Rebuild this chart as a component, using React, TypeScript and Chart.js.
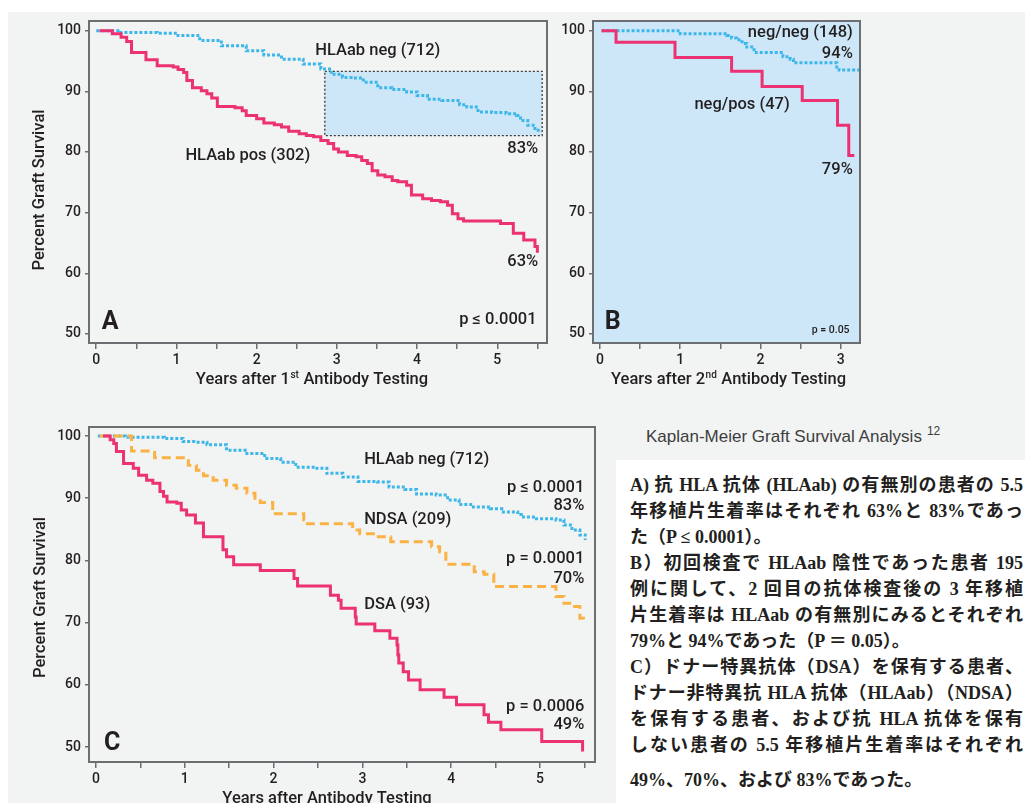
import React, { useEffect, useRef } from 'react';
import { Chart, registerables } from 'chart.js';
Chart.register(...registerables);

// ---------- Panel A: years after 1st antibody testing ----------
const aPosT = [0.04, 0.2, 0.31, 0.38, 0.44, 0.62, 0.76, 0.96, 1.02, 1.09, 1.13, 1.2, 1.31, 1.38, 1.44, 1.51, 1.73, 1.82, 1.87, 2.0, 2.09, 2.22, 2.31, 2.4, 2.53, 2.62, 2.71, 2.8, 2.89, 2.96, 3.02, 3.13, 3.24, 3.31, 3.38, 3.44, 3.51, 3.6, 3.69, 3.76, 3.87, 3.93, 4.07, 4.18, 4.29, 4.38, 4.44, 4.51, 4.58, 5.04, 5.2, 5.33, 5.47, 5.5];
const aPosV = [100, 99.5, 98.9, 98.2, 96.4, 95.2, 94.2, 94.0, 93.6, 93.1, 91.8, 90.6, 90.1, 89.6, 88.9, 87.5, 87.3, 86.8, 86.0, 85.5, 84.8, 84.5, 84.1, 83.4, 83.0, 82.7, 82.5, 81.9, 81.4, 80.5, 80.0, 79.4, 79.2, 78.6, 78.1, 76.9, 76.2, 75.9, 75.3, 75.1, 74.5, 72.9, 72.3, 72.0, 71.8, 71.2, 69.8, 69.0, 68.6, 68.2, 66.6, 65.5, 64.4, 63.4];
const aNegT = [0, 0.27, 0.76, 1.02, 1.29, 1.56, 1.87, 2.09, 2.31, 2.58, 2.8, 2.93, 3.07, 3.2, 3.33, 3.51, 3.69, 3.87, 4.0, 4.13, 4.31, 4.53, 4.62, 4.76, 4.93, 5.11, 5.24, 5.29, 5.38, 5.47, 5.51];
const aNegV = [100, 99.7, 99.6, 99.2, 98.4, 97.5, 96.7, 96.0, 95.3, 94.5, 93.7, 92.8, 92.3, 92.2, 91.5, 90.6, 90.3, 89.9, 89.3, 88.7, 88.5, 87.8, 87.4, 86.6, 86.5, 86.3, 86.0, 85.2, 84.4, 83.6, 83.0];
const aBox = [2.85, 5.56, 82.7, 93.3];

// ---------- Panel B: years after 2nd antibody testing ----------
const bPosT = [0.02, 0.2, 0.935, 1.64, 2.02, 2.52, 2.96, 3.1, 3.17];
const bPosV = [100, 98.1, 95.6, 93.3, 90.8, 88.5, 84.4, 79.4, 79.4];
const bNegT = [0.02, 1.0, 1.58, 1.64, 1.7, 1.77, 1.83, 1.92, 2.28, 2.37, 2.41, 2.95, 2.98, 3.24];
const bNegV = [100, 99.5, 99.2, 98.8, 98.5, 97.9, 97.3, 96.4, 95.7, 95.3, 94.7, 94.0, 93.5, 93.5];

// ---------- Panel C: years after antibody testing ----------
const cDsaT = [0.08, 0.16, 0.2, 0.23, 0.31, 0.42, 0.48, 0.57, 0.64, 0.72, 0.76, 0.8, 0.91, 0.96, 1.02, 1.12, 1.21, 1.43, 1.47, 1.55, 1.85, 2.23, 2.27, 2.64, 2.73, 2.76, 2.92, 2.93, 3.14, 3.31, 3.39, 3.40, 3.41, 3.46, 3.52, 3.65, 3.92, 4.06, 4.37, 4.42, 4.56, 5.02, 5.48];
const cDsaV = [100, 99.4, 98.8, 97.5, 95.6, 94.8, 93.7, 92.9, 92.4, 91.1, 90.3, 89.4, 89.2, 88.1, 87.3, 86.0, 83.8, 81.7, 80.6, 79.3, 78.4, 77.1, 75.9, 74.4, 73.6, 72.3, 70.9, 69.8, 68.7, 67.5, 66.4, 64.8, 63.5, 62.1, 60.8, 59.2, 58.0, 56.8, 55.2, 54.0, 52.8, 50.9, 49.3];
const cNdsaT = [0.04, 0.4, 0.66, 1.04, 1.13, 1.21, 1.32, 1.47, 1.58, 1.7, 1.79, 1.85, 1.99, 2.34, 2.38, 2.89, 2.97, 3.15, 3.32, 3.78, 3.87, 3.94, 4.26, 4.37, 4.48, 5.18, 5.27, 5.36, 5.45, 5.49];
const cNdsaV = [100, 97.6, 96.5, 95.3, 94.5, 93.6, 92.9, 92.1, 91.6, 90.8, 90.0, 89.3, 87.5, 86.5, 85.9, 84.9, 84.3, 83.8, 83.0, 82.2, 81.4, 79.4, 78.2, 77.8, 75.8, 74.2, 73.1, 72.6, 70.7, 70.2];
const cNegT = [0.02, 0.33, 0.77, 0.98, 1.12, 1.25, 1.47, 1.68, 1.9, 2.08, 2.25, 2.47, 2.6, 2.78, 2.95, 3.17, 3.3, 3.48, 3.61, 3.83, 3.96, 4.09, 4.22, 4.44, 4.57, 4.75, 4.79, 4.96, 5.18, 5.27, 5.36, 5.45, 5.51];
const cNegV = [100, 99.8, 99.6, 99.1, 99.0, 98.6, 97.7, 97.2, 96.4, 95.8, 95.0, 94.8, 94.0, 93.4, 92.7, 92.6, 91.8, 91.4, 90.7, 90.5, 89.7, 89.0, 88.6, 88.3, 87.8, 87.4, 87.0, 86.7, 86.5, 85.7, 84.9, 84.1, 83.3];

// ---------- ticks ----------
const yTickValues = [50, 60, 70, 80, 90, 100];
const xTicksLong = [0, 0.5, 1, 1.5, 2, 2.5, 3, 3.5, 4, 4.5, 5, 5.5];
const xTicksShort = [0, 0.5, 1, 1.5, 2, 2.5, 3];

// ---------- caption ----------
const figureTitle = 'Kaplan-Meier Graft Survival Analysis';
const figureRef = '12';
const jpLines = [
  'A) 抗 HLA 抗体 (HLAab) の有無別の患者の 5.5',
  '年移植片生着率はそれぞれ 63%と 83%であっ',
  'た（P ≤ 0.0001）。',
  'B）初回検査で HLAab 陰性であった患者 195',
  '例に関して、2 回目の抗体検査後の 3 年移植',
  '片生着率は HLAab の有無別にみるとそれぞれ',
  '79%と 94%であった（P ＝ 0.05）。',
  'C）ドナー特異抗体（DSA）を保有する患者、',
  'ドナー非特異抗 HLA 抗体（HLAab）（NDSA）',
  'を保有する患者、および抗 HLA 抗体を保有',
  'しない患者の 5.5 年移植片生着率はそれぞれ',
  '49%、70%、および 83%であった。',
];
const jpParagraphEnds = [2, 6, 11];

// ---------- styles ----------
const FONT = 'Roboto, "Open Sans", "DejaVu Sans", sans-serif';
const INK = '#231f20';
const PINK = '#ec3272';
const BLUE = '#3db7ea';
const ORANGE = '#fbb244';
const FRAME = '#6d6e71';
const LIGHT_BLUE = '#cde7f8';
const PAGE_BG = '#f2f3f3';

type Series = { t: number[]; v: number[]; color: string; dash: number[]; width: number };
type Ann = { text: string; x: number; y: number; align: CanvasTextAlign; size: number; weight: number };
type PanelSpec = {
  left: number; top: number; w: number; h: number;
  yAxisW: number; padTop: number; padRight: number; xAxisH: number;
  xMin: number; xMax: number; yMin: number; yMax: number; xTicks: number[];
  series: Series[]; anns: Ann[]; fillArea: boolean; box: number[] | null;
  xTitle: [string, string, string]; xTitleDx: number;
  yTitle: string | null; yTitleX: number; yTitleDy: number;
};

const ann = (text: string, x: number, y: number, align: CanvasTextAlign, size = 16.5, weight = 500): Ann =>
  ({ text, x, y, align, size, weight });

const panelA: PanelSpec = {
  left: 0, top: 0, w: 560, h: 400,
  yAxisW: 89, padTop: 21, padRight: 13, xAxisH: 57,
  xMin: -0.09, xMax: 5.62, yMin: 48.5, yMax: 101.6, xTicks: xTicksLong,
  series: [
    { t: aPosT, v: aPosV, color: PINK, dash: [], width: 3 },
    { t: aNegT, v: aNegV, color: BLUE, dash: [3, 2], width: 3 },
  ],
  anns: [
    ann('HLAab neg (712)', 3.51, 96.7, 'center'),
    ann('HLAab pos (302)', 1.89, 79.4, 'center'),
    ann('83%', 5.51, 80.5, 'right'),
    ann('63%', 5.51, 61.8, 'right'),
    ann('p ≤ 0.0001', 5.49, 52.3, 'right'),
    ann('A', 0.07, 51.8, 'left', 25, 700),
  ],
  fillArea: false, box: aBox,
  xTitle: ['Years after 1', 'st', ' Antibody Testing'], xTitleDx: -6,
  yTitle: 'Percent Graft Survival', yTitleX: 40, yTitleDy: 8,
};

const panelB: PanelSpec = {
  left: 550, top: 0, w: 330, h: 400,
  yAxisW: 43, padTop: 21, padRight: 20, xAxisH: 57,
  xMin: -0.087, xMax: 3.24, yMin: 48.5, yMax: 101.6, xTicks: xTicksShort,
  series: [
    { t: bPosT, v: bPosV, color: PINK, dash: [], width: 3 },
    { t: bNegT, v: bNegV, color: BLUE, dash: [3, 2], width: 3 },
  ],
  anns: [
    ann('neg/neg (148)', 3.15, 99.6, 'right'),
    ann('94%', 3.15, 96.1, 'right'),
    ann('neg/pos (47)', 1.77, 87.7, 'center'),
    ann('79%', 3.15, 77.0, 'right'),
    ann('p = 0.05', 3.11, 50.5, 'right', 10.5, 500),
    ann('B', 0.06, 51.9, 'left', 25, 700),
  ],
  fillArea: true, box: null,
  xTitle: ['Years after 2', 'nd', ' Antibody Testing'], xTitleDx: 2,
  yTitle: null, yTitleX: 0, yTitleDy: 0,
};

const panelC: PanelSpec = {
  left: 0, top: 400, w: 620, h: 420,
  yAxisW: 89, padTop: 27, padRight: 25, xAxisH: 58,
  xMin: -0.079, xMax: 5.62, yMin: 47.6, yMax: 101.45, xTicks: xTicksLong,
  series: [
    { t: cDsaT, v: cDsaV, color: PINK, dash: [], width: 3 },
    { t: cNdsaT, v: cNdsaV, color: ORANGE, dash: [9, 5], width: 3 },
    { t: cNegT, v: cNegV, color: BLUE, dash: [3, 2], width: 3 },
  ],
  anns: [
    ann('HLAab neg (712)', 3.02, 96.1, 'left'),
    ann('NDSA (209)', 3.02, 86.6, 'left'),
    ann('DSA (93)', 3.02, 72.8, 'left'),
    ann('p ≤ 0.0001', 5.5, 91.7, 'right'),
    ann('83%', 5.5, 88.8, 'right'),
    ann('p = 0.0001', 5.5, 80.3, 'right'),
    ann('70%', 5.5, 77.1, 'right'),
    ann('p = 0.0006', 5.5, 56.4, 'right'),
    ann('49%', 5.5, 53.5, 'right'),
    ann('C', 0.09, 50.6, 'left', 25, 700),
  ],
  fillArea: false, box: null,
  xTitle: ['Years after Antibody Testing', '', ''], xTitleDx: -15,
  yTitle: 'Percent Graft Survival', yTitleX: 41, yTitleDy: 3,
};

function decor(p: PanelSpec) {
  return {
    id: 'decor',
    beforeDatasetsDraw(chart: any) {
      const { ctx, chartArea: a, scales } = chart;
      ctx.save();
      if (p.fillArea) {
        ctx.fillStyle = LIGHT_BLUE;
        ctx.fillRect(a.left, a.top, a.right - a.left, a.bottom - a.top);
      }
      if (p.box) {
        const x0 = scales.x.getPixelForValue(p.box[0]);
        const x1 = scales.x.getPixelForValue(p.box[1]);
        const y0 = scales.y.getPixelForValue(p.box[3]);
        const y1 = scales.y.getPixelForValue(p.box[2]);
        ctx.fillStyle = LIGHT_BLUE;
        ctx.fillRect(x0, y0, x1 - x0, y1 - y0);
        ctx.setLineDash([2, 2]);
        ctx.strokeStyle = '#3a3a3a';
        ctx.lineWidth = 1.3;
        ctx.strokeRect(x0, y0, x1 - x0, y1 - y0);
      }
      ctx.restore();
    },
    afterDatasetsDraw(chart: any) {
      const { ctx, chartArea: a, scales } = chart;
      ctx.save();
      ctx.strokeStyle = FRAME;
      ctx.lineWidth = 2;
      ctx.setLineDash([]);
      ctx.strokeRect(a.left, a.top, a.right - a.left, a.bottom - a.top);
      ctx.fillStyle = INK;
      ctx.textBaseline = 'middle';
      for (const l of p.anns) {
        ctx.font = `${l.weight} ${l.size}px ${FONT}`;
        ctx.textAlign = l.align;
        ctx.fillText(l.text, scales.x.getPixelForValue(l.x), scales.y.getPixelForValue(l.y));
      }
      // x title with optional superscript
      const fMain = `500 16.5px ${FONT}`;
      const fSup = `500 10px ${FONT}`;
      const [pre, sup, post] = p.xTitle;
      ctx.font = fMain;
      const w1 = ctx.measureText(pre).width;
      const w3 = ctx.measureText(post).width;
      ctx.font = fSup;
      const w2 = sup ? ctx.measureText(sup).width + 1 : 0;
      let x = (a.left + a.right) / 2 + p.xTitleDx - (w1 + w2 + w3) / 2;
      const y = a.bottom + 37;
      ctx.textAlign = 'left';
      ctx.font = fMain;
      ctx.fillText(pre, x, y);
      x += w1;
      if (sup) {
        ctx.font = fSup;
        ctx.fillText(sup, x + 0.5, y - 5);
        x += w2;
      }
      ctx.font = fMain;
      if (post) ctx.fillText(post, x, y);
      if (p.yTitle) {
        ctx.translate(p.yTitleX, (a.top + a.bottom) / 2 + p.yTitleDy);
        ctx.rotate(-Math.PI / 2);
        ctx.textAlign = 'center';
        ctx.font = fMain;
        ctx.fillText(p.yTitle, 0, 0);
      }
      ctx.restore();
    },
  };
}

function buildConfig(p: PanelSpec): any {
  const tickFont = { family: FONT, size: 14, weight: 500 };
  return {
    type: 'line',
    data: {
      datasets: p.series.map((s) => ({
        data: s.t.map((x, i) => ({ x, y: s.v[i] })),
        borderColor: s.color,
        borderWidth: s.width,
        borderDash: s.dash,
        stepped: 'before',
        pointRadius: 0,
        fill: false,
      })),
    },
    options: {
      responsive: false,
      animation: false,
      devicePixelRatio: 1,
      events: [],
      layout: { padding: { left: 0, top: p.padTop, right: p.padRight, bottom: 0 } },
      plugins: { legend: { display: false }, tooltip: { enabled: false } },
      scales: {
        x: {
          type: 'linear',
          min: p.xMin,
          max: p.xMax,
          afterBuildTicks: (ax: any) => { ax.ticks = p.xTicks.map((value) => ({ value })); },
          afterFit: (ax: any) => { ax.height = p.xAxisH; },
          ticks: {
            callback: (v: number) => (Number.isInteger(v) ? String(v) : ''),
            autoSkip: false, maxRotation: 0, padding: 3, color: INK, font: tickFont,
          },
          grid: { drawOnChartArea: false, drawTicks: true, tickLength: 6, color: FRAME, lineWidth: 1.5 },
          border: { display: false },
        },
        y: {
          type: 'linear',
          min: p.yMin,
          max: p.yMax,
          afterBuildTicks: (ax: any) => { ax.ticks = yTickValues.map((value) => ({ value })); },
          afterFit: (ax: any) => { ax.width = p.yAxisW; },
          ticks: { padding: 4, color: INK, font: tickFont },
          grid: { drawOnChartArea: false, drawTicks: true, tickLength: 4, color: FRAME, lineWidth: 1.5 },
          border: { display: false },
        },
      },
    },
    plugins: [decor(p)],
  };
}

function ChartPanel({ spec }: { spec: PanelSpec }) {
  const ref = useRef<HTMLCanvasElement>(null);
  useEffect(() => {
    const chart = new Chart(ref.current as HTMLCanvasElement, buildConfig(spec));
    return () => chart.destroy();
  }, [spec]);
  return (
    <canvas
      ref={ref}
      width={spec.w}
      height={spec.h}
      style={{ position: 'absolute', left: spec.left, top: spec.top, width: spec.w, height: spec.h }}
    />
  );
}

export default function App() {
  return (
    <div style={{ position: 'absolute', left: 0, top: 0, width: 1025, height: 803, overflow: 'hidden', background: '#ffffff' }}>
      <div style={{ position: 'absolute', left: 8, top: 12, right: 0, bottom: 0, background: PAGE_BG }} />
      <ChartPanel spec={panelA} />
      <ChartPanel spec={panelB} />
      <ChartPanel spec={panelC} />
      <div
        style={{
          position: 'absolute', left: 646, top: 426, whiteSpace: 'nowrap',
          fontFamily: '"Liberation Sans", Arial, sans-serif', fontSize: 17, color: '#3d3d3d', lineHeight: '22px',
        }}
      >
        {figureTitle}
        <span style={{ fontSize: 12, position: 'relative', top: -7, marginLeft: 5 }}>{figureRef}</span>
      </div>
      <div style={{ position: 'absolute', left: 616, top: 460, width: 409, height: 343, background: '#ffffff' }}>
        <div
          style={{
            position: 'absolute', left: 14, top: 12, width: 393,
            fontFamily: '"Liberation Serif", "Noto Sans CJK JP", serif', fontWeight: 700,
            fontSize: 18, color: INK,
          }}
        >
          {jpLines.map((line, i) => {
            const end = jpParagraphEnds.includes(i);
            return (
              <div
                key={i}
                style={{
                  height: 26, lineHeight: '26px',
                  textAlign: end ? 'left' : 'justify',
                  textAlignLast: end ? 'left' : 'justify',
                  marginTop: i === jpLines.length - 1 ? 9 : 0,
                } as React.CSSProperties}
              >
                {line}
              </div>
            );
          })}
        </div>
      </div>
    </div>
  );
}
